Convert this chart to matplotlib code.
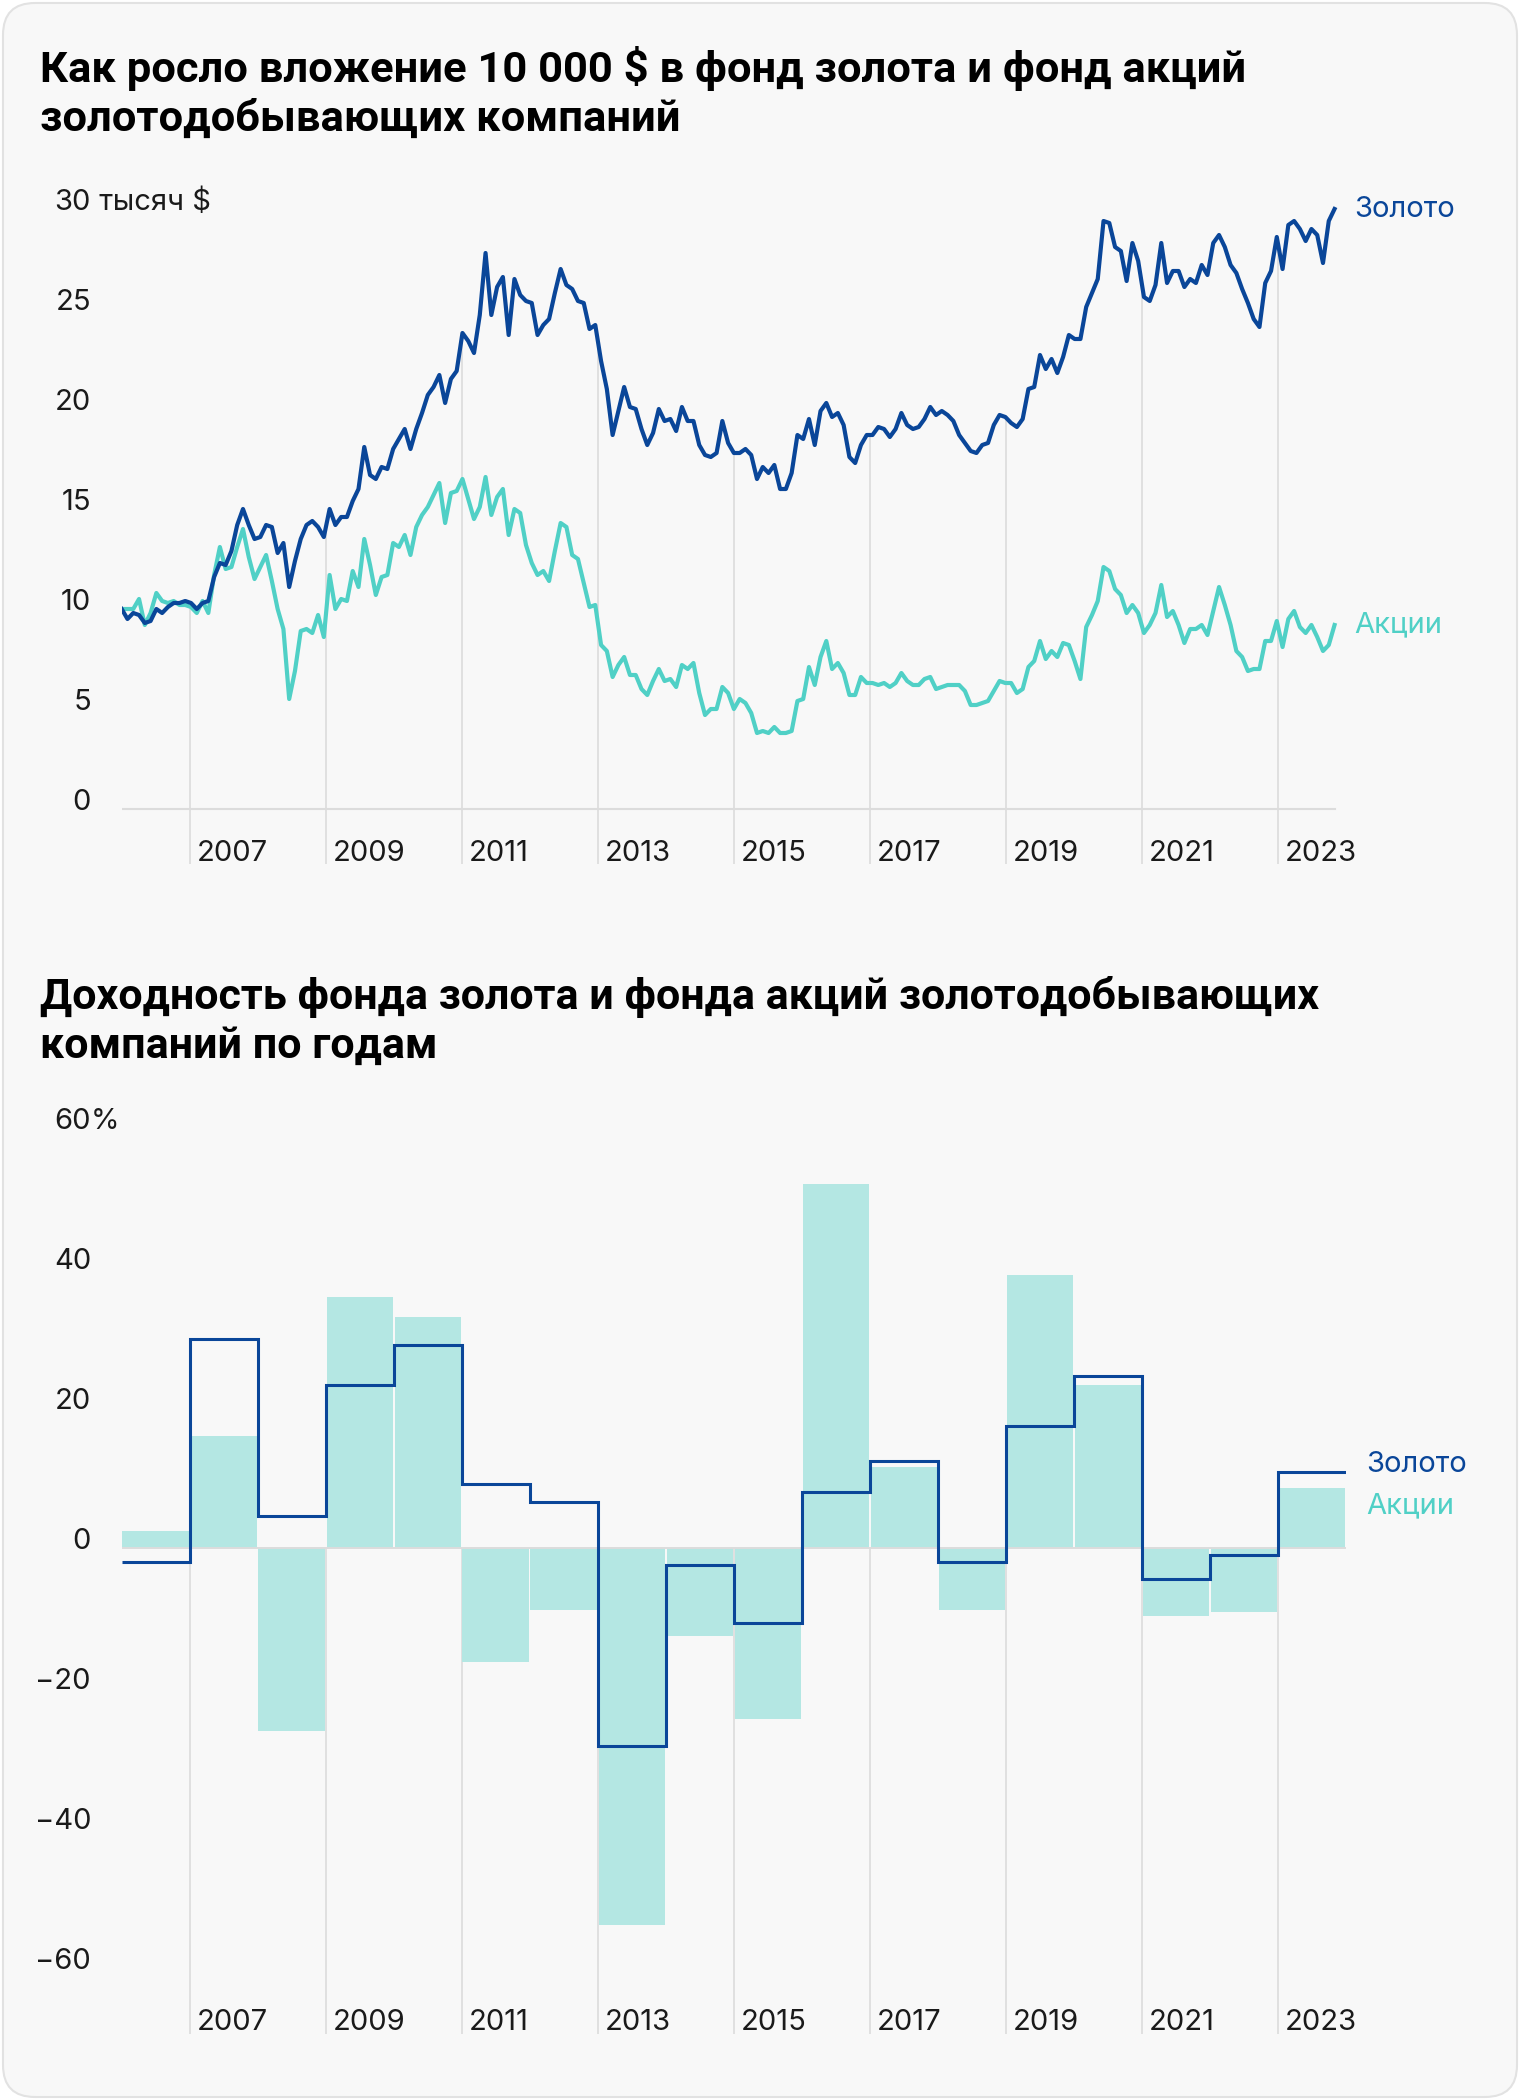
import matplotlib.pyplot as plt
import matplotlib.dates as mdates
from matplotlib import transforms
from matplotlib.patches import FancyBboxPatch
import pandas as pd
import numpy as np

# Growth of 10 000 $ (thousand $), monthly, Jan 2006 - Nov 2023
gold_value = [
    10.0, 9.5, 9.8, 9.7, 9.3, 9.4, 10.0, 9.8, 10.1, 10.3, 10.3, 10.4, 10.3, 10.0, 10.3, 10.4,
    11.6, 12.3, 12.2, 12.9, 14.2, 15.0, 14.2, 13.5, 13.6, 14.2, 14.1, 12.8, 13.3, 11.1, 12.4,
    13.5, 14.2, 14.4, 14.1, 13.6, 15.0, 14.2, 14.6, 14.6, 15.4, 16.0, 18.1, 16.7, 16.5, 17.1,
    17.0, 18.0, 18.5, 19.0, 18.0, 19.0, 19.8, 20.7, 21.1, 21.7, 20.3, 21.5, 21.9, 23.8, 23.4,
    22.8, 24.7, 27.8, 24.7, 26.1, 26.6, 23.7, 26.5, 25.7, 25.4, 25.3, 23.7, 24.2, 24.5, 25.8,
    27.0, 26.2, 26.0, 25.4, 25.3, 24.0, 24.2, 22.4, 21.0, 18.7, 19.9, 21.1, 20.1, 20.0, 19.0,
    18.2, 18.8, 20.0, 19.4, 19.5, 18.9, 20.1, 19.4, 19.4, 18.2, 17.7, 17.6, 17.8, 19.4, 18.3,
    17.8, 17.8, 18.0, 17.7, 16.5, 17.1, 16.8, 17.2, 16.0, 16.0, 16.8, 18.7, 18.5, 19.5, 18.2,
    19.9, 20.3, 19.6, 19.8, 19.2, 17.6, 17.3, 18.2, 18.7, 18.7, 19.1, 19.0, 18.6, 19.0, 19.8,
    19.2, 19.0, 19.1, 19.5, 20.1, 19.7, 19.9, 19.7, 19.4, 18.7, 18.3, 17.9, 17.8, 18.2, 18.3,
    19.2, 19.7, 19.6, 19.3, 19.1, 19.5, 21.0, 21.1, 22.7, 22.0, 22.5, 21.8, 22.6, 23.7, 23.5,
    23.5, 25.1, 25.8, 26.5, 29.4, 29.3, 28.1,
    27.9, 26.4, 28.3, 27.4, 25.6, 25.4, 26.2, 28.3, 26.3, 26.9, 26.9, 26.1, 26.5, 26.3, 27.2,
    26.7, 28.3, 28.7, 28.1, 27.2, 26.8, 26.0, 25.3, 24.5, 24.1, 26.3, 26.9, 28.6, 27.0, 29.2,
    29.4, 29.0, 28.4, 29.0, 28.7, 27.3, 29.4, 30.0,
]
stocks_value = [
    10.0, 10.0, 10.0, 10.5, 9.2, 9.8, 10.8, 10.4, 10.3, 10.4, 10.2, 10.2, 10.1, 9.8, 10.4, 9.8,
    11.7, 13.1, 12.0, 12.1, 13.1, 14.0, 12.6, 11.5, 12.1, 12.7, 11.4, 10.0, 9.0, 5.5, 6.9,
    8.9, 9.0, 8.8, 9.7, 8.6, 11.7, 10.0, 10.5, 10.4, 11.9, 11.1, 13.5, 12.2, 10.7, 11.6,
    11.7, 13.3, 13.1, 13.7, 12.7, 14.1, 14.7, 15.1, 15.7, 16.3, 14.3, 15.8, 15.9, 16.5, 15.5,
    14.5, 15.1, 16.6, 14.7, 15.6, 16.0, 13.7, 15.0, 14.8, 13.2, 12.3, 11.7, 11.9, 11.4, 12.9,
    14.3, 14.1, 12.7, 12.5, 11.3, 10.1, 10.2, 8.2, 7.9, 6.6, 7.2, 7.6, 6.7, 6.7, 6.0,
    5.7, 6.4, 7.0, 6.4, 6.5, 6.1, 7.2, 7.0, 7.3, 5.8, 4.7, 5.0, 5.0, 6.1, 5.8,
    5.0, 5.5, 5.3, 4.8, 3.8, 3.9, 3.8, 4.1, 3.8, 3.8, 3.9, 5.4, 5.5, 7.1, 6.2,
    7.6, 8.4, 7.0, 7.3, 6.8, 5.7, 5.7, 6.6, 6.3, 6.3, 6.2, 6.3, 6.1, 6.3, 6.8,
    6.4, 6.2, 6.2, 6.5, 6.6, 6.0, 6.1, 6.2, 6.2, 6.2, 5.9, 5.2, 5.2, 5.3, 5.4,
    5.9, 6.4, 6.3, 6.3, 5.8, 6.0, 7.1, 7.4, 8.4, 7.5, 7.9, 7.6, 8.3, 8.2, 7.4,
    6.5, 9.1, 9.7, 10.4, 12.1, 11.9, 11.0,
    10.7, 9.8, 10.2, 9.8, 8.8, 9.2, 9.8, 11.2, 9.6, 9.9, 9.2, 8.3, 9.0, 9.0, 9.2,
    8.7, 9.9, 11.1, 10.2, 9.2, 7.9, 7.6, 6.9, 7.0, 7.0, 8.4, 8.4, 9.4, 8.1, 9.5,
    9.9, 9.1, 8.8, 9.2, 8.6, 7.9, 8.2, 9.2,
]

# Yearly returns, %
years = list(range(2006, 2024))
gold_return = [-1.9, 29.9, 4.7, 23.3, 29.0, 9.2, 6.7, -28.3, -2.3, -10.6,
               8.1, 12.5, -1.9, 17.5, 24.6, -4.4, -1.0, 10.9]
stocks_return = [2.5, 16.1, -26.1, 35.9, 33.1, -16.2, -8.8, -53.8, -12.5, -24.4,
                 52.1, 11.6, -8.8, 39.0, 23.3, -9.6, -9.1, 8.7]

top_ticks = [0, 5, 10, 15, 20, 25, 30]
bottom_ticks = [-60, -40, -20, 0, 20, 40, 60]
year_labels = list(range(2007, 2024, 2))

GOLD = '#0a4699'
TEAL = '#50d0c6'
BAR = '#b4e7e3'
GRID = '#e0e0e0'
TEXT = '#1a1a1a'
FONT = ['Inter', 'DejaVu Sans']
TITLE_FONT = ['Roboto', 'DejaVu Sans']

plt.rcParams['font.family'] = FONT

W, H = 1520, 2100
fig = plt.figure(figsize=(W / 100, H / 100), dpi=100, facecolor='white')

# card background
card = FancyBboxPatch((3, 3), W - 6, H - 6, boxstyle='round,pad=0,rounding_size=32',
                      transform=transforms.IdentityTransform(),
                      facecolor='#f8f8f8', edgecolor='#e2e2e2', linewidth=1.5, zorder=-10)
fig.patches.append(card)


def px_box(x0, y0, x1, y1):
    return [x0 / W, 1 - y1 / H, (x1 - x0) / W, (y1 - y0) / H]


x_start = mdates.date2num(pd.Timestamp('2006-01-01'))
x_end = mdates.date2num(pd.Timestamp('2024-01-01'))
AX_LEFT, AX_RIGHT = 121.7, 1345.9
label_x = (91 - AX_LEFT) / (AX_RIGHT - AX_LEFT)  # right edge of y labels, axes fraction


def y_labels(ax, ticks, suffix_top):
    tr = transforms.offset_copy(ax.get_yaxis_transform(), fig=fig, x=0, y=7, units='dots')
    for v in ticks:
        txt = str(v) if v >= 0 else '\u2212' + str(abs(v))
        ax.text(label_x, v, txt, ha='right', va='center', fontsize=21, color=TEXT,
                transform=tr, clip_on=False)
    top = max(ticks)
    ax.text(label_x, top, suffix_top, ha='left', va='center', fontsize=21, color=TEXT,
            transform=tr, clip_on=False)


def x_labels(ax, y):
    tr = transforms.offset_copy(ax.transData, fig=fig, x=7, y=-4, units='dots')
    for yr in year_labels:
        ax.text(mdates.date2num(pd.Timestamp(f'{yr}-01-01')), y, str(yr), ha='left',
                va='center', fontsize=21, color=TEXT, transform=tr, clip_on=False)


# ---------------- Top chart: growth of investment ----------------
fig.text(40 / W, 1 - 81.7 / H, 'Как росло вложение 10 000 $ в фонд золота и фонд акций',
         fontsize=31.3, fontweight='bold', family=TITLE_FONT, color='black', va='baseline')
fig.text(40 / W, 1 - 131 / H, 'золотодобывающих компаний',
         fontsize=31.3, fontweight='bold', family=TITLE_FONT, color='black', va='baseline')

ax1 = fig.add_axes(px_box(AX_LEFT, 150, AX_RIGHT, 870))
ax1.set_xlim(x_start, x_end)
ax1.set_ylim(-3.05, 32.95)
ax1.axis('off')

dates = pd.date_range('2006-01-01', '2023-11-01', periods=len(gold_value))
dnum = mdates.date2num(dates)

for yr in year_labels:
    x = mdates.date2num(pd.Timestamp(f'{yr}-01-01'))
    top = max(np.interp(x, dnum, gold_value), np.interp(x, dnum, stocks_value))
    ax1.vlines(x, -2.75, top, color=GRID, lw=1.4, zorder=1)
ax1.plot([dnum[0], dnum[-1]], [0, 0], color='#dcdcdc', lw=1.5, zorder=1)

ax1.plot(dnum, stocks_value, color=TEAL, lw=3.0, solid_joinstyle='round', zorder=3)
ax1.plot(dnum, gold_value, color=GOLD, lw=3.0, solid_joinstyle='round', zorder=4)

end_tr = transforms.offset_copy(ax1.transData, fig=fig, x=20, y=0, units='dots')
ax1.text(dnum[-1], gold_value[-1], 'Золото', color=GOLD, fontsize=21, va='center',
         ha='left', transform=end_tr, clip_on=False)
ax1.text(dnum[-1], stocks_value[-1], 'Акции', color=TEAL, fontsize=21, va='center',
         ha='left', transform=end_tr, clip_on=False)

y_labels(ax1, top_ticks, ' тысяч $')
x_labels(ax1, -2.0)

# ---------------- Bottom chart: yearly returns ----------------
fig.text(40 / W, 1 - 1009 / H, 'Доходность фонда золота и фонда акций золотодобывающих',
         fontsize=31, fontweight='bold', family=TITLE_FONT, color='black', va='baseline')
fig.text(40 / W, 1 - 1057.5 / H, 'компаний по годам',
         fontsize=31, fontweight='bold', family=TITLE_FONT, color='black', va='baseline')

ax2 = fig.add_axes(px_box(AX_LEFT, 1100, AX_RIGHT, 2050))
ax2.set_xlim(x_start, x_end)
ax2.set_ylim(-71.66, 64.06)
ax2.axis('off')

edges = mdates.date2num([pd.Timestamp(f'{y}-01-01') for y in years + [years[-1] + 1]])
spans = np.diff(edges)
ax2.bar(edges[:-1] + 4, stocks_return, width=spans - 8, align='edge', color=BAR,
        linewidth=0, zorder=2)

for yr in year_labels:
    x = mdates.date2num(pd.Timestamp(f'{yr}-01-01'))
    ax2.vlines(x, -69.4, 0, color=GRID, lw=1.4, zorder=1)
ax2.plot([edges[0], edges[-1]], [0, 0], color='#dcdcdc', lw=1.4, zorder=3)

ax2.stairs(gold_return, edges, baseline=None, color=GOLD, lw=2.2, zorder=4)

leg_tr = transforms.offset_copy(ax2.transData, fig=fig, x=20, y=-4, units='dots')
ax2.text(edges[-1], 12.5, 'Золото', color=GOLD, fontsize=21, va='center', ha='left',
         transform=leg_tr, clip_on=False)
ax2.text(edges[-1], 6.6, 'Акции', color=TEAL, fontsize=21, va='center', ha='left',
         transform=leg_tr, clip_on=False)

y_labels(ax2, bottom_ticks, '%')
x_labels(ax2, -67.1)

fig.savefig('out.png', dpi=100, facecolor='white')
